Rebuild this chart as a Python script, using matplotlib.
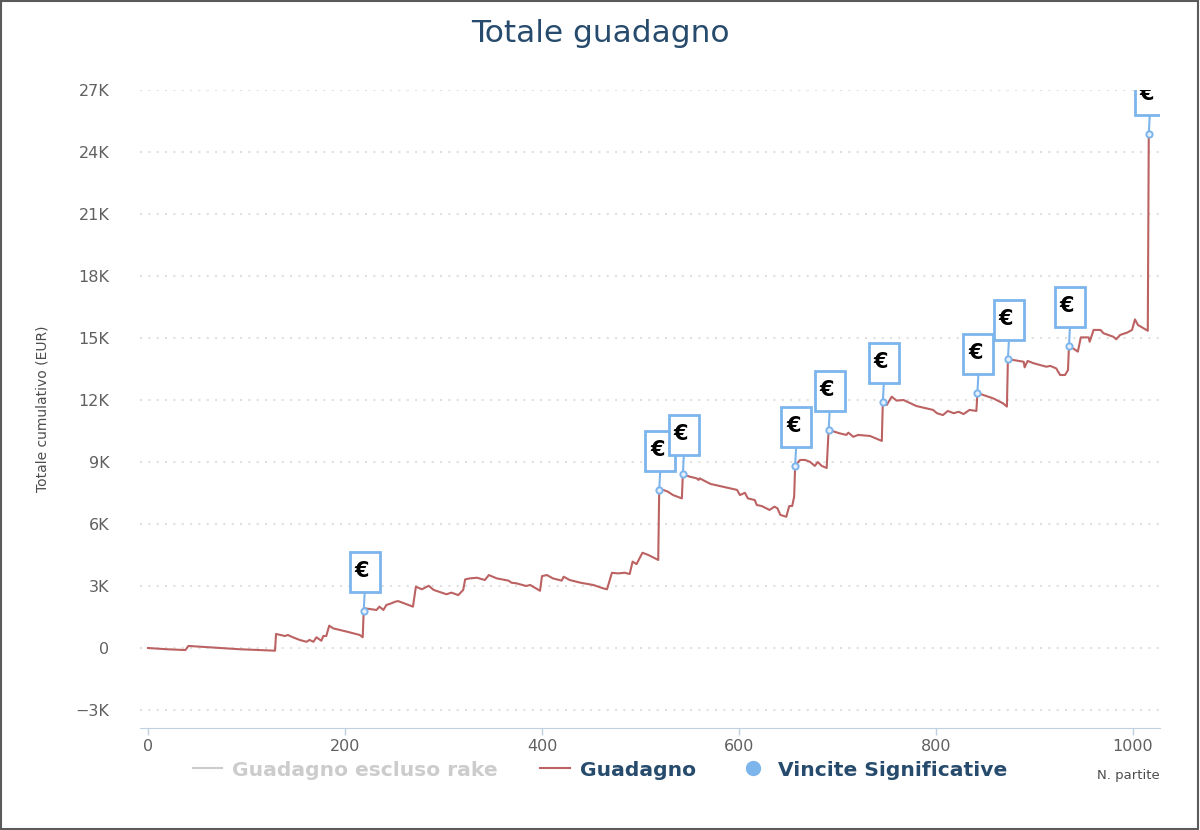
import matplotlib
matplotlib.use("Agg")
import matplotlib.pyplot as plt
from matplotlib.lines import Line2D
from matplotlib.patches import Rectangle
from matplotlib.transforms import Affine2D, ScaledTranslation

# cumulative winnings (game number, EUR)
games = [0, 19, 38, 41, 93, 129, 130, 139, 142, 147, 154, 161, 164, 168, 171, 176, 178, 181,
         184, 188, 202, 215, 218, 219, 220, 232, 235, 239, 242, 247, 251, 254, 269, 272, 278,
         285, 290, 303, 308, 315, 320, 322, 327, 334, 342, 346, 354, 366, 369, 374, 384, 388,
         398, 400, 405, 411, 420, 422, 428, 439, 452, 462, 466, 471, 477, 484, 489, 492, 496,
         502, 508, 518, 519, 523, 528, 533, 542, 543, 550, 557, 559, 560, 571, 584, 598, 601,
         606, 609, 616, 618, 623, 631, 636, 639, 642, 648, 651, 654, 656, 657, 662, 667, 672,
         677, 680, 684, 689, 691, 694, 702, 709, 711, 716, 721, 733, 743, 745, 746, 750, 755,
         760, 767, 780, 797, 801, 807, 812, 818, 823, 828, 834, 841, 842, 845, 858, 868, 872,
         873, 878, 889, 890, 893, 899, 912, 916, 922, 926, 931, 934, 935, 939, 944, 947, 955,
         956, 960, 967, 970, 980, 983, 987, 994, 999, 1002, 1005, 1015, 1016]
guadagno = [0, -60, -100, 100, -60, -130, 680, 580, 630, 520, 390, 300, 390, 300, 520, 350, 580,
            580, 1080, 950, 790, 630, 520, 1790, 1920, 1840, 2000, 1840, 2080, 2160, 2240, 2270,
            2000, 2970, 2840, 3010, 2810, 2600, 2680, 2560, 2810, 3320, 3370, 3400, 3290, 3530,
            3370, 3260, 3160, 3130, 3000, 3050, 2770, 3480, 3530, 3370, 3260, 3450, 3290, 3160,
            3050, 2890, 2840, 3640, 3610, 3640, 3580, 4180, 4060, 4610, 4500, 4260, 7650, 7650,
            7560, 7400, 7240, 8410, 8290, 8210, 8130, 8210, 7940, 7800, 7650, 7400, 7510, 7240,
            7160, 6920, 6870, 6680, 6840, 6760, 6440, 6350, 6870, 6870, 7320, 8820, 9100, 9100,
            9010, 8810, 9000, 8810, 8710, 10550, 10510, 10390, 10310, 10420, 10220, 10310, 10260,
            10060, 10020, 11890, 11760, 12160, 11970, 12000, 11710, 11520, 11360, 11270, 11470,
            11360, 11430, 11320, 11520, 11470, 12320, 12290, 12080, 11840, 11680, 13980, 13940,
            13850, 13580, 13890, 13780, 13610, 13650, 13530, 13210, 13210, 13450, 14630, 14500,
            14340, 15030, 15030, 14820, 15390, 15390, 15230, 15060, 14940, 15150, 15260, 15390,
            15900, 15630, 15350, 24870]

# significant wins (flags)
vincite_games = [219, 519, 543, 657, 691, 746, 842, 873, 935, 1016]
vincite_values = [guadagno[games.index(g)] for g in vincite_games]

y_ticks = [-3000, 0, 3000, 6000, 9000, 12000, 15000, 18000, 21000, 24000, 27000]
y_labels = ["\u22123K", "0", "3K", "6K", "9K", "12K", "15K", "18K", "21K", "24K", "27K"]
x_ticks = [0, 200, 400, 600, 800, 1000]

line_color = "#bc6262"
flag_color = "#7cb5ec"
dark_blue = "#274b6d"

fig = plt.figure(figsize=(12, 8.3), dpi=100)
ax = fig.add_axes([140 / 1200, 1 - 728 / 830, 1020 / 1200, 638 / 830])

ax.plot(games, guadagno, color=line_color, lw=1.5, zorder=3)
ax.plot(vincite_games, vincite_values, "o", ms=4.5, mfc="#e6f0fb", mec=flag_color, mew=1.4,
        zorder=5)

# flags: box above each point with a connector line
for g, v in zip(vincite_games, vincite_values):
    anchor = ScaledTranslation(g, v, ax.transData)
    pix = Affine2D() + anchor
    ax.add_line(Line2D([0, 1], [0, 19], transform=pix, color=flag_color, lw=1.5, zorder=4))
    ax.add_patch(Rectangle((-14, 19), 30, 40, transform=pix, facecolor="white",
                           edgecolor=flag_color, lw=2, zorder=6))
    ax.text(0, 0, "\u20ac", transform=Affine2D().translate(-2, 40) + anchor,
            ha="center", va="center", fontsize=15, fontweight="bold", color="black",
            zorder=7, clip_on=True)

ax.set_xlim(-8.1, 1027.4)
ax.set_ylim(-3871, 27000)
ax.set_yticks(y_ticks)
ax.set_yticklabels(y_labels)
ax.set_xticks(x_ticks)
ax.grid(axis="y", color="#e0e0e0", lw=1.5, ls=(0, (1, 3)))
ax.set_axisbelow(True)
for s in ["top", "right", "left"]:
    ax.spines[s].set_visible(False)
ax.spines["bottom"].set_color("#c0d0e0")
ax.tick_params(axis="y", length=0, pad=22, labelsize=11.5, labelcolor="#606060")
ax.tick_params(axis="x", length=5, width=1, color="#c0d0e0", pad=3, labelsize=11.5,
               labelcolor="#606060")

fig.text(0.5, 1 - 33 / 830, "Totale guadagno", ha="center", va="center", fontsize=22.5,
         color=dark_blue)
ax.set_ylabel("Totale cumulativo (EUR)", fontsize=10, color="#4d4d4d")
ax.yaxis.set_label_coords(-90 / 1020, 0.5)
ax.set_xlabel("N. partite", fontsize=9.5, color="#4d4d4d", loc="right")
ax.xaxis.set_label_coords(1.0, -47 / 638)
ax.xaxis.label.set_va("center")

handles = [
    Line2D([], [], color="#cccccc", lw=1.5),
    Line2D([], [], color=line_color, lw=1.5),
    Line2D([], [], ls="", marker="o", ms=10, color=flag_color),
]
labels = ["Guadagno escluso rake", "Guadagno", "Vincite Significative"]
leg = fig.legend(handles, labels, loc="center", bbox_to_anchor=(0.5, 1 - 770 / 830), ncol=3,
                 frameon=False, handlelength=1.45, handletextpad=0.5, columnspacing=2.1,
                 prop={"weight": "bold", "size": 14.6})
for t, c in zip(leg.get_texts(), ["#cccccc", dark_blue, dark_blue]):
    t.set_color(c)

fig.add_artist(Rectangle((0.001, 0.0012), 0.997, 0.997, transform=fig.transFigure,
                         fill=False, edgecolor="#5a5a5a", lw=1.5))

fig.savefig("out.png", dpi=100)
